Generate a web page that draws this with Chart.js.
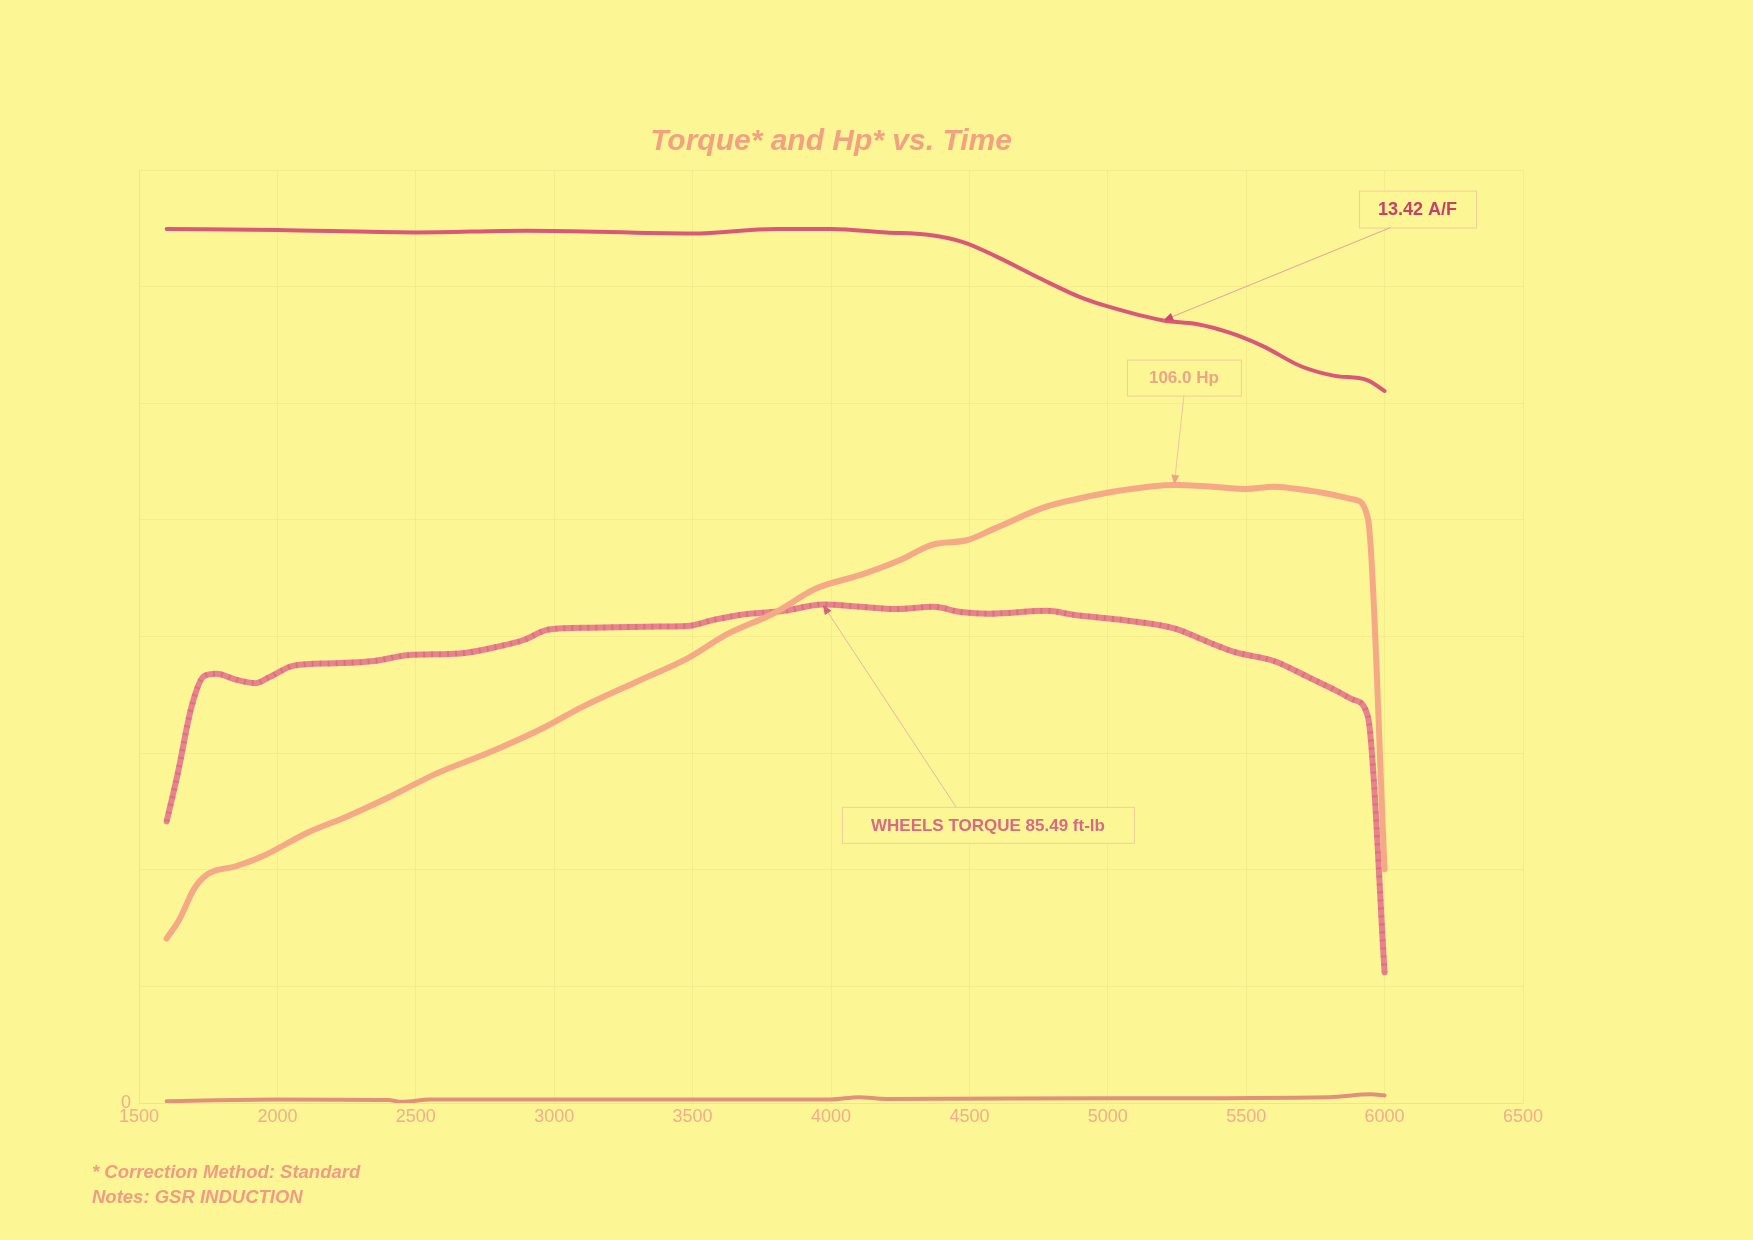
<!DOCTYPE html>
<html>
<head>
<meta charset="utf-8">
<script src="https://cdn.jsdelivr.net/npm/chart.js@4.4.1/dist/chart.umd.min.js"></script>
<style>
  html, body { margin: 0; padding: 0; background: #fcf694; }
  canvas { display: block; }
</style>
</head>
<body>
<canvas id="dynoChart" width="1753" height="1240"></canvas>
<script>
// values
const torqueRpm = [1600,1640,1690,1735,1780,1850,1920,1970,2060,2200,2350,2470,2660,2800,2890,2980,3130,3380,3480,3580,3670,3830,3970,4110,4230,4370,4470,4570,4780,4880,5040,5240,5360,5460,5600,5730,5830,5890,5940,6000];
const torqueVals = [48.3,56.5,68.0,73.2,73.6,72.6,72.0,73.0,75.0,75.4,75.8,76.8,77.1,78.3,79.4,81.2,81.5,81.7,81.8,82.9,83.7,84.4,85.49,85.1,84.7,85.1,84.2,83.9,84.4,83.7,82.9,81.4,79.1,77.3,75.8,72.9,70.6,69.1,66.2,22.4];

const hpRpm = [1600,1645,1700,1750,1850,1950,2110,2250,2410,2570,2780,2960,3100,3300,3480,3625,3790,3950,4110,4250,4370,4490,4590,4780,4880,5040,5240,5400,5500,5600,5730,5890,5940,6000];
const hpVals = [28.2,31.4,36.8,39.3,40.6,42.4,46.4,49.1,52.6,56.4,60.4,64.3,67.9,72.3,76.2,80.4,83.9,88.3,90.6,93.1,95.8,96.5,98.5,102.3,103.5,105.0,106.0,105.6,105.3,105.7,105.0,103.5,100.2,40.1];

const afrRpm = [1600,2000,2500,2900,3500,3800,4000,4200,4350,4480,4600,4760,4900,5000,5200,5320,5440,5560,5700,5820,5935,6000];
const afrVals = [14.99,14.97,14.93,14.96,14.91,14.99,14.99,14.93,14.89,14.76,14.51,14.13,13.82,13.66,13.42,13.36,13.21,12.98,12.63,12.47,12.40,12.21];

const baseRpm = [1600,2000,2400,2450,2550,3500,4000,4100,4200,5000,5800,5950,6000];
const baseVals = [0.3,0.6,0.5,0.2,0.6,0.6,0.6,1.0,0.7,0.8,1.0,1.5,1.3];

const xTicks = [1500,2000,2500,3000,3500,4000,4500,5000,5500,6000,6500];

const toPoints = (xs, ys) => xs.map((x, i) => ({x: x, y: ys[i]}));

const bg = '#fcf694';
const gridCol = 'rgba(225,212,125,0.28)';
const tickCol = '#f2ad8c';
const fontFam = '"Liberation Sans", Arial, sans-serif';

// paper colour, title over the plot, footnotes
const paperPlugin = {
  id: 'paper',
  beforeDraw(chart) {
    const ctx = chart.ctx;
    ctx.save();
    ctx.fillStyle = bg;
    ctx.fillRect(0, 0, chart.width, chart.height);
    ctx.restore();
  },
  afterDraw(chart) {
    const ctx = chart.ctx;
    const a = chart.chartArea;
    ctx.save();
    ctx.fillStyle = '#f2a283';
    ctx.font = 'italic bold 30px ' + fontFam;
    ctx.textAlign = 'center';
    ctx.textBaseline = 'middle';
    ctx.fillText('Torque* and Hp* vs. Time', (a.left + a.right) / 2, 142);

    ctx.fillStyle = '#f09c84';
    ctx.font = 'italic bold 18.5px ' + fontFam;
    ctx.textAlign = 'left';
    ctx.fillText('* Correction Method: Standard', 92, 1173);
    ctx.fillText('Notes: GSR INDUCTION', 92, 1198);
    ctx.restore();
  }
};

// boxed callouts with a leader line pointing at a data point
const calloutPlugin = {
  id: 'callouts',
  afterDatasetsDraw(chart, args, opts) {
    const ctx = chart.ctx;
    const xs = chart.scales.x, ys = chart.scales.y;
    opts.items.forEach(it => {
      const meta = chart.getDatasetMeta(it.dataset);
      const pt = meta.data[it.index];
      const cx = xs.getPixelForValue(it.boxX);
      const cy = ys.getPixelForValue(it.boxY);
      const left = cx - it.w / 2, top = cy - it.h / 2;

      ctx.save();
      ctx.fillStyle = bg;
      ctx.fillRect(left, top, it.w, it.h);
      ctx.strokeStyle = '#f0cf9e';
      ctx.lineWidth = 1;
      ctx.strokeRect(left + 0.5, top + 0.5, it.w, it.h);

      ctx.fillStyle = it.color;
      ctx.font = 'bold ' + it.size + 'px ' + fontFam;
      ctx.textAlign = 'center';
      ctx.textBaseline = 'middle';
      ctx.fillText(it.text, cx, cy + 1);

      // leader
      const sx = cx + it.dx;
      const sy = it.side === 'top' ? top : top + it.h;
      ctx.strokeStyle = it.lineColor;
      ctx.beginPath();
      ctx.moveTo(sx, sy);
      ctx.lineTo(pt.x, pt.y);
      ctx.stroke();

      const ang = Math.atan2(pt.y - sy, pt.x - sx);
      const len = 10, half = 4;
      ctx.fillStyle = it.arrowColor;
      ctx.beginPath();
      ctx.moveTo(pt.x, pt.y);
      ctx.lineTo(pt.x - len * Math.cos(ang) + half * Math.sin(ang), pt.y - len * Math.sin(ang) - half * Math.cos(ang));
      ctx.lineTo(pt.x - len * Math.cos(ang) - half * Math.sin(ang), pt.y - len * Math.sin(ang) + half * Math.cos(ang));
      ctx.closePath();
      ctx.fill();
      ctx.restore();
    });
  }
};

const hpPeak = hpVals.indexOf(Math.max(...hpVals));
const tqPeak = torqueVals.indexOf(Math.max(...torqueVals));
const afrMark = afrRpm.indexOf(5200);

new Chart(document.getElementById('dynoChart'), {
  type: 'line',
  data: {
    datasets: [
      {
        label: 'Hp',
        data: toPoints(hpRpm, hpVals),
        borderColor: '#f5a987',
        borderWidth: 6,
        order: 0
      },
      {
        label: 'Torque hatch',
        data: toPoints(torqueRpm, torqueVals),
        borderColor: 'rgba(185,70,100,0.28)',
        borderWidth: 6,
        borderDash: [2, 6],
        borderCapStyle: 'butt',
        order: 1
      },
      {
        label: 'Torque',
        data: toPoints(torqueRpm, torqueVals),
        borderColor: '#e8828e',
        borderWidth: 6,
        order: 2
      },
      {
        label: 'A/F',
        data: toPoints(afrRpm, afrVals),
        borderColor: '#d9587a',
        borderWidth: 4,
        yAxisID: 'y2',
        order: 3
      },
      {
        label: 'Base',
        data: toPoints(baseRpm, baseVals),
        borderColor: '#e2907e',
        borderWidth: 4,
        order: 4
      }
    ]
  },
  options: {
    responsive: false,
    devicePixelRatio: 1,
    animation: false,
    events: [],
    elements: {
      point: { radius: 0 },
      line: { cubicInterpolationMode: 'monotone', borderCapStyle: 'round', borderJoinStyle: 'round' }
    },
    layout: { padding: { left: 0, right: 230, top: 170, bottom: 0 } },
    scales: {
      x: {
        type: 'linear',
        min: 1500,
        max: 6500,
        afterBuildTicks: s => { s.ticks = xTicks.map(v => ({value: v})); },
        afterFit: s => { s.height = 137; },
        ticks: {
          color: tickCol,
          font: { family: fontFam, size: 18 },
          padding: 3,
          maxRotation: 0,
          callback: v => String(v)
        },
        grid: { color: gridCol, drawTicks: false },
        border: { color: gridCol }
      },
      y: {
        min: 0,
        max: 160,
        ticks: {
          stepSize: 20,
          color: tickCol,
          font: { family: fontFam, size: 18 },
          padding: 8,
          callback: v => v === 0 ? '0' : ''
        },
        afterFit: s => { s.width = 139; },
        grid: { color: gridCol, drawTicks: false },
        border: { color: gridCol }
      },
      y2: { display: false, min: 0, max: 16 }
    },
    plugins: {
      legend: { display: false },
      tooltip: { enabled: false },
      title: { display: false },
      callouts: {
        items: [
          { text: '13.42 A/F', dataset: 3, index: afrMark, boxX: 6119, boxY: 153.3, w: 117, h: 37, size: 18,
            color: '#c8406a', lineColor: '#e8a0a0', arrowColor: '#d04870', dx: -27, side: 'bottom' },
          { text: '106.0 Hp', dataset: 0, index: hpPeak, boxX: 5275, boxY: 124.4, w: 114, h: 36, size: 17,
            color: '#eda487', lineColor: '#f3c4a0', arrowColor: '#f0a486', dx: 0, side: 'bottom' },
          { text: 'WHEELS TORQUE 85.49 ft-lb', dataset: 2, index: tqPeak, boxX: 4567, boxY: 47.7, w: 292, h: 36, size: 17,
            color: '#d86a86', lineColor: '#ecb8a0', arrowColor: '#d86078', dx: -32, side: 'top' }
        ]
      }
    }
  },
  plugins: [paperPlugin, calloutPlugin]
});
</script>
</body>
</html>
